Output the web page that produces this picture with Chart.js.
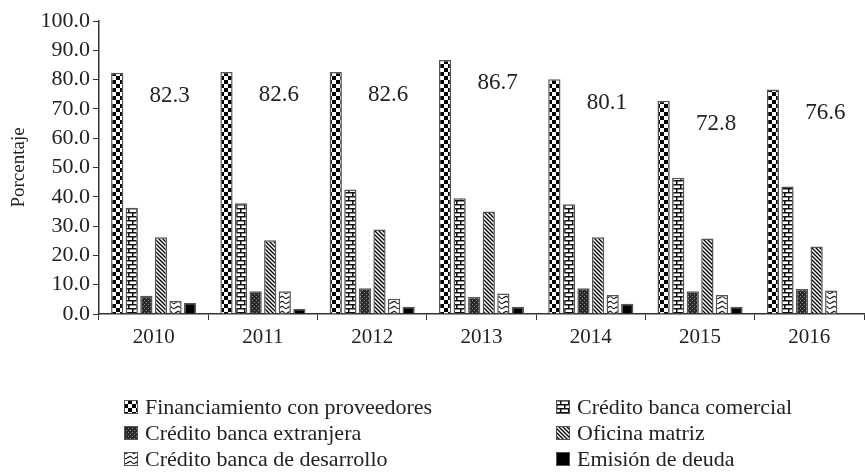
<!DOCTYPE html>
<html>
<head>
<meta charset="utf-8">
<script src="https://cdn.jsdelivr.net/npm/chart.js@4.4.0/dist/chart.umd.min.js"></script>
<style>
  html, body { margin: 0; padding: 0; background: #fff; }
  #wrap { width: 865px; height: 473px; }
</style>
</head>
<body>
<div id="wrap"><canvas id="myChart" width="865" height="473"></canvas></div>
<script>
// categories and series (percent of firms)
const years = ['2010', '2011', '2012', '2013', '2014', '2015', '2016'];
const proveedores = [82.3, 82.6, 82.6, 86.7, 80.1, 72.8, 76.6];
const comercial   = [36.3, 37.8, 42.5, 39.5, 37.5, 46.5, 43.5];
const extranjera  = [6.2, 7.8, 8.8, 5.8, 8.8, 7.8, 8.5];
const matriz      = [26.2, 25.2, 28.8, 35.0, 26.2, 25.8, 23.0];
const desarrollo  = [4.5, 7.8, 5.2, 7.0, 6.5, 6.5, 8.0];
const deuda       = [3.8, 1.8, 2.5, 2.5, 3.5, 2.5, null];
const yTicks = [0, 10, 20, 30, 40, 50, 60, 70, 80, 90, 100];

const FONT = '"Liberation Serif", "DejaVu Serif", serif';

// small tiles used as fill patterns
function tile(w, h, draw) {
  const c = document.createElement('canvas');
  c.width = w; c.height = h;
  const g = c.getContext('2d');
  draw(g, w, h);
  return document.getElementById('myChart').getContext('2d').createPattern(c, 'repeat');
}

const checker = tile(8, 8, (g) => {
  g.fillStyle = '#fff'; g.fillRect(0, 0, 8, 8);
  g.fillStyle = '#000'; g.fillRect(0, 0, 4, 4); g.fillRect(4, 4, 4, 4);
});
const brick = tile(8, 8, (g) => {
  g.fillStyle = '#fff'; g.fillRect(0, 0, 8, 8);
  g.fillStyle = '#111';
  g.fillRect(0, 0, 8, 1.5); g.fillRect(0, 4, 8, 1.5);
  g.fillRect(0, 0, 1.5, 4); g.fillRect(4, 4, 1.5, 4);
});
const darkDots = tile(4, 4, (g) => {
  g.fillStyle = '#2a2a2a'; g.fillRect(0, 0, 4, 4);
  g.fillStyle = '#8a8a8a'; g.fillRect(0, 0, 1, 1); g.fillRect(2, 2, 1, 1);
});
const diagonal = tile(4, 4, (g) => {
  g.fillStyle = '#fff'; g.fillRect(0, 0, 4, 4);
  g.strokeStyle = '#000'; g.lineWidth = 1.3;
  g.beginPath();
  g.moveTo(-1, -1); g.lineTo(5, 5);
  g.moveTo(-1, 3); g.lineTo(1, 5);
  g.moveTo(3, -1); g.lineTo(5, 1);
  g.stroke();
});
const wave = tile(8, 5, (g) => {
  g.fillStyle = '#fff'; g.fillRect(0, 0, 8, 5);
  g.strokeStyle = '#222'; g.lineWidth = 1.2;
  g.beginPath();
  g.moveTo(0, 3); g.quadraticCurveTo(2, 0, 4, 2.5); g.quadraticCurveTo(6, 5, 8, 2);
  g.stroke();
});

const series = [
  { label: 'Financiamiento con proveedores', data: proveedores, fill: checker },
  { label: 'Crédito banca comercial', data: comercial, fill: brick },
  { label: 'Crédito banca extranjera', data: extranjera, fill: darkDots },
  { label: 'Oficina matriz', data: matriz, fill: diagonal },
  { label: 'Crédito banca de desarrollo', data: desarrollo, fill: wave },
  { label: 'Emisión de deuda', data: deuda, fill: '#000' },
];

// value labels for the first series, with a white box behind them
const valueLabels = {
  id: 'valueLabels',
  afterDatasetsDraw(chart) {
    const { ctx, scales: { x, y } } = chart;
    ctx.save();
    ctx.font = '23px ' + FONT;
    ctx.textAlign = 'center';
    ctx.textBaseline = 'middle';
    proveedores.forEach((v, i) => {
      const txt = v.toFixed(1);
      const px = x.getPixelForValue(i) + 16;
      const py = y.getPixelForValue(v - 8);
      const w = ctx.measureText(txt).width + 2;
      ctx.fillStyle = '#fff';
      ctx.fillRect(px - w / 2, py - 13, w, 26);
      ctx.fillStyle = '#222';
      ctx.fillText(txt, px, py);
    });
    ctx.restore();
  }
};

// two-column legend below the axis
const gridLegend = {
  id: 'gridLegend',
  afterDraw(chart) {
    const { ctx } = chart;
    const colX = [124, 556];
    const rowY = [407, 433, 459];
    ctx.save();
    ctx.font = '22px ' + FONT;
    ctx.textBaseline = 'middle';
    chart.data.datasets.forEach((ds, i) => {
      const cx = colX[i % 2];
      const cy = rowY[Math.floor(i / 2)];
      ctx.fillStyle = ds.backgroundColor;
      ctx.fillRect(cx, cy - 7, 14, 14);
      ctx.strokeStyle = '#555';
      ctx.lineWidth = 1;
      ctx.strokeRect(cx + 0.5, cy - 6.5, 13, 13);
      ctx.fillStyle = '#222';
      ctx.fillText(ds.label, cx + 21, cy + 1);
    });
    ctx.restore();
  }
};

new Chart(document.getElementById('myChart'), {
  type: 'bar',
  data: {
    labels: years,
    datasets: series.map(s => ({
      label: s.label,
      data: s.data,
      backgroundColor: s.fill,
      borderColor: '#555',
      borderWidth: 1.5,
      categoryPercentage: 0.8,
      barPercentage: 0.84,
    })),
  },
  options: {
    responsive: false,
    animation: false,
    layout: { padding: { top: 21, right: 1, bottom: 116, left: 8 } },
    plugins: {
      legend: { display: false },
      tooltip: { enabled: false },
    },
    scales: {
      x: {
        grid: { display: true, drawOnChartArea: false, drawTicks: true, tickLength: 6, color: '#333', offset: true },
        border: { color: '#333', width: 1.5 },
        ticks: { color: '#222', font: { family: FONT, size: 21 }, padding: 5, autoSkip: false, maxRotation: 0 },
        afterFit(scale) { scale.height = 43; },
      },
      y: {
        min: 0,
        max: 100,
        afterBuildTicks(scale) { scale.ticks = yTicks.map(v => ({ value: v })); },
        grid: { display: true, drawOnChartArea: false, drawTicks: true, tickLength: 6, color: '#333' },
        border: { color: '#333', width: 1.5 },
        ticks: { color: '#222', font: { family: FONT, size: 22 }, padding: 3, autoSkip: false, callback: v => v.toFixed(1) },
        title: { display: true, text: 'Porcentaje', color: '#222', font: { family: FONT, size: 19 }, padding: 0 },
        afterFit(scale) { scale.width = 91; },
      },
    },
  },
  plugins: [valueLabels, gridLegend],
});
</script>
</body>
</html>
